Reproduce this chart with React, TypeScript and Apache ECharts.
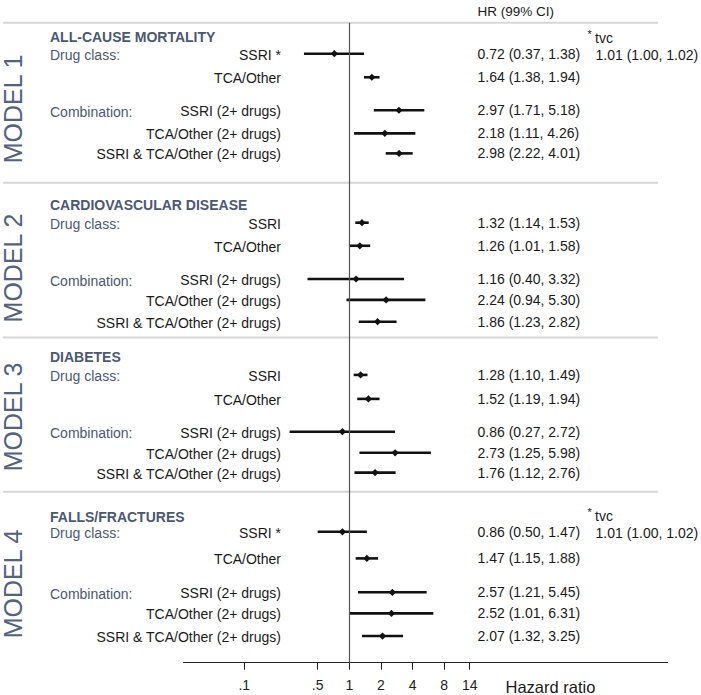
import React, { useEffect, useRef } from 'react';
import * as echarts from 'echarts';

// ---------- data ----------
const modelNames = ['MODEL 1', 'MODEL 2', 'MODEL 3', 'MODEL 4'];
const modelTitles = ['ALL-CAUSE MORTALITY', 'CARDIOVASCULAR DISEASE', 'DIABETES', 'FALLS/FRACTURES'];
const groupLabels = ['Drug class:', 'Combination:'];
const rowLabels = ['SSRI', 'TCA/Other', 'SSRI (2+ drugs)', 'TCA/Other (2+ drugs)', 'SSRI & TCA/Other (2+ drugs)'];

const hrM1 = [0.72, 1.64, 2.97, 2.18, 2.98];
const loM1 = [0.37, 1.38, 1.71, 1.11, 2.22];
const hiM1 = [1.38, 1.94, 5.18, 4.26, 4.01];

const hrM2 = [1.32, 1.26, 1.16, 2.24, 1.86];
const loM2 = [1.14, 1.01, 0.40, 0.94, 1.23];
const hiM2 = [1.53, 1.58, 3.32, 5.30, 2.82];

const hrM3 = [1.28, 1.52, 0.86, 2.73, 1.76];
const loM3 = [1.10, 1.19, 0.27, 1.25, 1.12];
const hiM3 = [1.49, 1.94, 2.72, 5.98, 2.76];

const hrM4 = [0.86, 1.47, 2.57, 2.52, 2.07];
const loM4 = [0.50, 1.15, 1.21, 1.01, 1.32];
const hiM4 = [1.47, 1.88, 5.45, 6.31, 3.25];

const tvcHR = [1.01, null, null, 1.01];
const tvcLo = [1.00, null, null, 1.00];
const tvcHi = [1.02, null, null, 1.02];

const tickValues = [0.1, 0.5, 1, 2, 4, 8, 14];
const tickLabels = ['.1', '.5', '1', '2', '4', '8', '14'];

const hrAll = [hrM1, hrM2, hrM3, hrM4];
const loAll = [loM1, loM2, loM3, loM4];
const hiAll = [hiM1, hiM2, hiM3, hiM4];

// ---------- layout (row units) ----------
const W = 701;
const H = 695;
const FONT = '"Liberation Sans", Arial, Helvetica, sans-serif';
const GRID = { left: 183.5, right: W - 667.6, top: 22.7, bottom: H - 662.7 };
const Y_MAX = (662.7 - 22.7) / 22;
const X_MIN = -1.579;
const X_MAX = 3.031;
const ROW_Y = [
  [1.41, 2.48, 3.98, 5.03, 5.94],
  [9.09, 10.14, 11.65, 12.6, 13.59],
  [16.01, 17.1, 18.59, 19.55, 20.45],
  [23.14, 24.35, 25.89, 26.85, 27.88],
];
const SEP_Y = [0, 7.27, 14.31, 21.32];
const HEADER_Y = [0.66, 8.29, 15.21, 22.48];
const MODEL_Y = [3.92, 11.15, 17.92, 25.51];
const LABEL_DX = 97.5;
const HR_DX = 294;

const SLATE = '#4a5875';
const INK = '#1a1a1a';

const fmt = (v: number) => v.toFixed(2);

export default function App() {
  const ref = useRef<HTMLDivElement | null>(null);

  useEffect(() => {
    if (!ref.current) return;
    const chart = echarts.init(ref.current, null, { renderer: 'svg' });

    const rows: number[][] = [];
    hrAll.forEach((hrs, m) => {
      hrs.forEach((hr, r) => {
        rows.push([Math.log10(hr), Math.log10(loAll[m][r]), Math.log10(hiAll[m][r]), ROW_Y[m][r], m, r]);
      });
    });

    const tickLogs = tickValues.map((t) => Math.log10(t));

    const option: any = {
      animation: false,
      grid: { ...GRID, containLabel: false },
      xAxis: {
        type: 'value',
        min: X_MIN,
        max: X_MAX,
        splitLine: { show: false },
        axisLine: { show: true, onZero: false, lineStyle: { color: '#222', width: 1.2 } },
        axisTick: { show: true, length: 7, lineStyle: { color: '#222', width: 1 }, customValues: tickLogs },
        axisLabel: {
          customValues: tickLogs,
          formatter: (v: number) => {
            const i = tickLogs.findIndex((t) => Math.abs(t - v) < 1e-6);
            return i >= 0 ? tickLabels[i] : '';
          },
          fontSize: 14,
          fontFamily: FONT,
          color: '#222',
          margin: 15,
        },
      },
      yAxis: { type: 'value', inverse: true, min: 0, max: Y_MAX, show: false },
      series: [
        {
          type: 'custom',
          name: 'forest',
          data: rows,
          encode: { x: [0, 1, 2], y: 3 },
          clip: false,
          renderItem: (params: any, api: any) => {
            const y = api.value(3);
            const c = api.coord([api.value(0), y]);
            const l = api.coord([api.value(1), y]);
            const h = api.coord([api.value(2), y]);
            const m = api.value(4);
            const r = api.value(5);
            const cs = params.coordSys;
            const s = 3.6;
            const hasTvc = tvcHR[m] != null && r === 0;
            const children: any[] = [
              { type: 'line', shape: { x1: l[0], y1: c[1], x2: h[0], y2: c[1] }, style: { stroke: '#111', lineWidth: 2.6 } },
              {
                type: 'polygon',
                shape: { points: [[c[0], c[1] - s], [c[0] + s, c[1]], [c[0], c[1] + s], [c[0] - s, c[1]]] },
                style: { fill: '#111' },
              },
              {
                type: 'text',
                x: cs.x + LABEL_DX,
                y: c[1] + 1,
                style: {
                  text: rowLabels[r] + (hasTvc ? ' *' : ''),
                  fill: INK, fontSize: 14, fontFamily: FONT, align: 'right', verticalAlign: 'middle',
                },
              },
              {
                type: 'text',
                x: cs.x + HR_DX,
                y: c[1],
                style: {
                  text: `${fmt(hrAll[m][r])} (${fmt(loAll[m][r])}, ${fmt(hiAll[m][r])})`,
                  fill: INK, fontSize: 14, fontFamily: FONT, align: 'left', verticalAlign: 'middle',
                },
              },
            ];
            if (hasTvc) {
              children.push(
                { type: 'text', x: cs.x + 404, y: c[1] - 20, style: { text: '*', fill: INK, fontSize: 11, fontFamily: FONT, align: 'left', verticalAlign: 'middle' } },
                { type: 'text', x: cs.x + 411.5, y: c[1] - 16, style: { text: 'tvc', fill: INK, fontSize: 14, fontFamily: FONT, align: 'left', verticalAlign: 'middle' } },
                {
                  type: 'text', x: cs.x + 412, y: c[1] + 1,
                  style: { text: `${fmt(tvcHR[m] as number)} (${fmt(tvcLo[m] as number)}, ${fmt(tvcHi[m] as number)})`, fill: INK, fontSize: 14, fontFamily: FONT, align: 'left', verticalAlign: 'middle' },
                },
              );
            }
            return { type: 'group', children };
          },
          markLine: {
            silent: true,
            symbol: 'none',
            label: { show: false },
            lineStyle: { color: '#555', width: 1.2, type: 'solid' },
            data: [{ xAxis: 0 }],
          },
          z: 3,
        },
      ],
    };

    chart.setOption(option);

    const py = (u: number) => chart.convertToPixel({ yAxisIndex: 0 } as any, u) as number;
    const graphic: any[] = [];
    SEP_Y.forEach((u) => {
      const y = py(u);
      graphic.push({ type: 'line', shape: { x1: 3, y1: y, x2: 658, y2: y }, style: { stroke: '#d6d6d6', lineWidth: 2 }, z: 1 });
    });
    modelNames.forEach((name, m) => {
      graphic.push({
        type: 'text', x: 12.5, y: py(MODEL_Y[m]), rotation: Math.PI / 2,
        style: { text: name, fill: '#52627f', fontSize: 25, fontFamily: FONT, align: 'center', verticalAlign: 'middle' },
      });
      graphic.push({
        type: 'text', x: 50, y: py(HEADER_Y[m]),
        style: { text: modelTitles[m], fill: SLATE, fontSize: 14, fontWeight: 'bold', fontFamily: FONT, align: 'left', verticalAlign: 'middle' },
      });
      graphic.push({
        type: 'text', x: 50, y: py(ROW_Y[m][0]) + 1.5,
        style: { text: groupLabels[0], fill: SLATE, fontSize: 14, fontFamily: FONT, align: 'left', verticalAlign: 'middle' },
      });
      graphic.push({
        type: 'text', x: 50, y: py(ROW_Y[m][2]) + 1.5,
        style: { text: groupLabels[1], fill: SLATE, fontSize: 14, fontFamily: FONT, align: 'left', verticalAlign: 'middle' },
      });
    });
    graphic.push({
      type: 'text', x: 477.5, y: 11.7,
      style: { text: 'HR (99% CI)', fill: INK, fontSize: 13.5, fontFamily: FONT, align: 'left', verticalAlign: 'middle' },
    });
    graphic.push({
      type: 'text', x: 505.5, y: 687,
      style: { text: 'Hazard ratio', fill: INK, fontSize: 16.5, fontFamily: FONT, align: 'left', verticalAlign: 'middle' },
    });
    chart.setOption({ graphic });

    return () => chart.dispose();
  }, []);

  return (
    <div
      ref={ref}
      style={{ position: 'fixed', left: 0, top: 0, width: W, height: H, background: '#fff' }}
    />
  );
}
